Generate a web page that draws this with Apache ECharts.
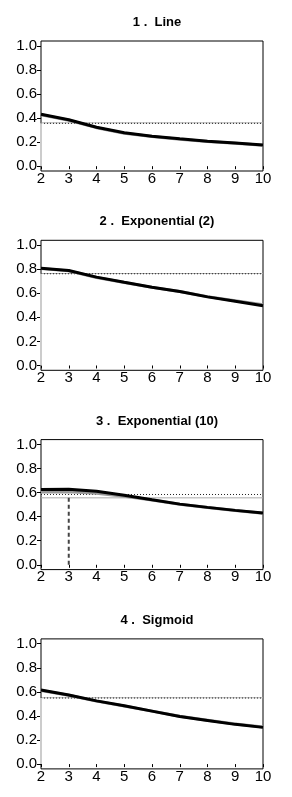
<!DOCTYPE html>
<html><head><meta charset="utf-8">
<script src="https://cdn.jsdelivr.net/npm/echarts@6/dist/echarts.min.js"></script>
<style>html,body{margin:0;padding:0;background:#fff}#c{width:292px;height:797px}</style>
</head><body><div id="c"></div>
<script>
const titles = ['1 .  Line', '2 .  Exponential (2)', '3 .  Exponential (10)', '4 .  Sigmoid'];
const xValues = [2, 3, 4, 5, 6, 7, 8, 9, 10];
const xTicks = [2, 3, 4, 5, 6, 7, 8, 9, 10];
const yTicks = [0, 0.2, 0.4, 0.6, 0.8, 1.0];
// black (thick) curves
const black1 = [0.432, 0.386, 0.323, 0.277, 0.249, 0.227, 0.208, 0.192, 0.175];
const black2 = [0.808, 0.789, 0.734, 0.691, 0.650, 0.614, 0.570, 0.534, 0.496];
const black3 = [0.625, 0.627, 0.611, 0.578, 0.540, 0.504, 0.477, 0.452, 0.430];
const black4 = [0.615, 0.574, 0.525, 0.484, 0.440, 0.396, 0.363, 0.330, 0.305];
// grey (thin) curves
const grey1 = [0.428, 0.382, 0.320, 0.274, 0.246, 0.224, 0.206, 0.190, 0.173];
const grey2 = [0.805, 0.786, 0.731, 0.689, 0.649, 0.614, 0.572, 0.538, 0.505];
const grey3 = [0.605, 0.607, 0.595, 0.570, 0.538, 0.503, 0.476, 0.451, 0.429];
const grey4 = [0.612, 0.572, 0.523, 0.483, 0.440, 0.397, 0.365, 0.333, 0.308];
// dotted thresholds, grey solid thresholds, chosen x
const dotted = [0.356, 0.762, 0.584, 0.549];
const greyLevel = [0.360, 0.764, 0.556, 0.551];
const chosenX = [2, 2, 3, 2];

const blacks = [black1, black2, black3, black4];
const greys = [grey1, grey2, grey3, grey4];

const FONT = 'Liberation Sans';
const panelH = 199.3;
const grid = [], xAxis = [], yAxis = [], title = [], series = [];
for (let i = 0; i < 4; i++) {
  const top = 41 + i * panelH;
  grid.push({left: 41, top: top, width: 222, height: 130, show: true, borderColor: '#000', borderWidth: 1, backgroundColor: 'transparent'});
  title.push({text: titles[i], left: 152, top: 11 + i * panelH, textAlign: 'center',
    textStyle: {fontFamily: FONT, fontSize: 13, fontWeight: 'bold', color: '#000'}});
  xAxis.push({type: 'value', gridIndex: i, min: 2, max: 10, splitLine: {show: false},
    axisLine: {show: false},
    axisTick: {show: true, length: 3, lineStyle: {color: '#000'}, customValues: xTicks},
    axisLabel: {fontFamily: FONT, fontSize: 15, color: '#000', margin: 0, customValues: xTicks, showMinLabel: true, showMaxLabel: true}});
  yAxis.push({type: 'value', gridIndex: i, min: -0.04, max: 1.04, splitLine: {show: false},
    axisLine: {show: false},
    axisTick: {show: true, length: 4, lineStyle: {color: '#000'}, customValues: yTicks},
    axisLabel: {fontFamily: FONT, fontSize: 15, color: '#000', margin: 4, customValues: yTicks,
      formatter: v => v.toFixed(1)}});
  const g = greys[i].map((v, j) => [xValues[j], v]);
  const b = blacks[i].map((v, j) => [xValues[j], v]);
  series.push({type: 'line', xAxisIndex: i, yAxisIndex: i, data: [[2, greyLevel[i]], [10, greyLevel[i]]],
    symbol: 'none', silent: true, lineStyle: {color: '#aaaaaa', width: 1}, z: 1});
  series.push({type: 'line', xAxisIndex: i, yAxisIndex: i, data: [[2, dotted[i]], [10, dotted[i]]],
    symbol: 'none', silent: true, lineStyle: {color: '#222', width: 1, type: [1, 2]}, z: 2});
  const vert = i === 2;
  series.push({type: 'line', xAxisIndex: i, yAxisIndex: i, data: [[chosenX[i], 0], [chosenX[i], dotted[i]]],
    symbol: 'none', silent: true,
    lineStyle: vert ? {color: '#444', width: 2, type: [4, 3]} : {color: '#cccccc', width: 2}, z: 2});
  series.push({type: 'line', xAxisIndex: i, yAxisIndex: i, data: g, symbol: 'none', silent: true,
    lineStyle: {color: '#999999', width: 3}, z: 3});
  series.push({type: 'line', xAxisIndex: i, yAxisIndex: i, data: b, symbol: 'none', silent: true,
    lineStyle: {color: '#000', width: 3}, z: 4});
}
const chart = echarts.init(document.getElementById('c'), null, {renderer: 'canvas'});
chart.setOption({animation: false, backgroundColor: '#fff', title, grid, xAxis, yAxis, series});
</script></body></html>
